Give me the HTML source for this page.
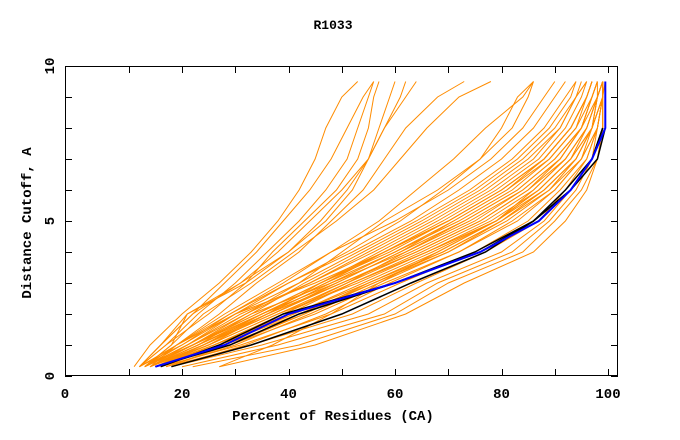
<!DOCTYPE html>
<html><head><meta charset="utf-8"><style>
html,body{margin:0;padding:0;background:#fff;}
svg{display:block;font-family:"Liberation Mono",monospace;font-weight:bold;}
</style></head><body>
<svg id="chart" width="680" height="440" xmlns="http://www.w3.org/2000/svg">
<text x="333" y="29" font-size="13" text-anchor="middle">R1033</text>
<g id="plot"></g>
<rect x="65.5" y="66.5" width="552" height="309" fill="none" stroke="#000" stroke-width="1"/>
<g id="axes"></g>
<text x="333" y="420" font-size="14" text-anchor="middle">Percent of Residues (CA)</text>
<text x="0" y="0" font-size="14" text-anchor="middle" transform="translate(31,223) rotate(-90)">Distance Cutoff, A</text>
</svg>
<script>
const yLevels=[0.3,1,2,3,4,5,6,7,8,9,9.5];
const xTicks=[0,20,40,60,80,100];
const yTicks=[0,5,10];
const orangeSeries=[
[13,20,30,45,58,70,80,88,93,96,97],[13,22,33,48,62,73,83,90,95,98,99],[14,24,36,50,64,76,85,92,96,98,99],
[14,25,38,53,66,78,87,93,97,99,99.5],[15,27,42,56,70,80,88,94,97,99,99],[15,29,45,58,72,82,90,95,98,99,99],
[16,31,48,61,75,85,91,96,98,99,99],[17,33,52,64,77,87,92,96,98,99,99],[18,35,55,66,80,88,93,97,98,99,99],
[20,38,58,68,82,89,94,97,99,99,99],[22,42,60,70,84,90,95,98,99,99,99],[27,45,62,73,86,92,96,98,99,99,99],
[13,21,31,44,55,66,76,84,90,94,95],[12,20,29,40,52,63,72,80,86,90,92],[14,23,35,47,60,72,82,89,94,97,98],
[16,26,40,52,66,79,88,94,97,98,99],[13,19,28,38,48,60,70,78,84,88,90],[15,24,37,50,63,75,84,91,95,97,98],
[14,22,34,46,58,69,79,87,92,95,96],[17,30,44,57,70,81,89,95,97,99,99],[13,21,32,42,50,58,68,76,82,85,86],
[15,26,41,55,68,79,87,93,96,98,98],[27,37,48,57,68,79,86,92,96,98,99],[14,23,33,43,54,65,75,83,89,93,94],
[16,28,39,51,62,74,84,91,95,97,98],[13,22,35,49,61,71,81,88,93,96,97],[15,25,36,46,57,68,78,86,91,94,96],
[14,24,37,49,61,73,83,90,95,97,98],[15,26,39,52,65,77,86,92,96,98,99],[14,23,36,48,60,71,81,89,94,96,97],
[16,27,41,54,67,79,87,93,97,98,99],[13,22,34,46,59,70,80,88,93,96,97],[15,25,38,51,64,76,85,91,95,97,98],
[17,29,43,56,69,80,88,94,97,99,99],[14,22,32,44,56,67,77,85,91,94,96],[16,28,43,55,69,80,89,94,97,98,99],
[12,19,30,42,53,64,74,82,88,92,94],[18,32,47,59,72,83,90,95,98,99,99],[15,24,35,47,58,70,80,88,93,96,97],
[11,14,20,27,33,38,42,45,47,50,53],[12,16,22,28,34,39,44,48,51,54,56],[12,17,23,30,36,42,47,51,53,55,56],
[13,18,21,32,37,43,49,53,55,56,57],[12,17,25,32,40,46,51,55,58,62,64],[14,19,27,34,42,48,54,58,62,68,73],
[12,16,21,31,38,44,50,55,58,61,62],[13,18,24,33,41,49,56,61,66,72,78],[13,19,29,39,48,57,64,71,77,84,86],
[12,16,22,31,40,47,52,55,57,59,60],[14,21,30,40,51,61,69,76,80,83,86]
];
const blackSeries=[[16,27,39,60,76,86,92,97,99,null,null],[18,33,50,63,77,86,93,98,99.5,null,null],[15,29,42,60,75,86,93,97,99,null,null]];
const blueSeries=[15,28,40,60,76,87,93,97,99.5,99.5,99.5];
const NS="http://www.w3.org/2000/svg";
const xs=v=>75.5+v*5.325;
const ys=v=>376-v*31;
const plot=document.getElementById('plot'),axes=document.getElementById('axes');
function line(vals,color,w,name){
  const pts=[];vals.forEach((v,i)=>{if(v!=null)pts.push(xs(v).toFixed(1)+','+ys(yLevels[i]).toFixed(1));});
  const p=document.createElementNS(NS,'polyline');
  p.setAttribute('points',pts.join(' '));p.setAttribute('fill','none');p.setAttribute('stroke',color);p.setAttribute('stroke-width',w);
  
  
  plot.appendChild(p);
}
orangeSeries.forEach((s,i)=>line(s,'#ff8c00',1,'model-line-'+i));
blackSeries.forEach((s,i)=>line(s,'#000',1.5,'reference-line-'+i));
line(blueSeries,'#0000ff',2,'highlight-line');
function mk(tag,attrs){const e=document.createElementNS(NS,tag);for(const k in attrs)e.setAttribute(k,attrs[k]);axes.appendChild(e);return e;}
for(let v=10;v<=100;v+=10){const x=Math.round(xs(v))+0.5;const L=7;
  const t1=mk('line',{x1:x,y1:376,x2:x,y2:376-L,stroke:'#000'});
  const t2=mk('line',{x1:x,y1:66,x2:x,y2:66+L,stroke:'#000'});}
for(let v=0;v<=10;v++){const y=Math.round(ys(v))+0.5;const L=7;
  const t1=mk('line',{x1:65,y1:y,x2:65+L,y2:y,stroke:'#000'});
  const t2=mk('line',{x1:618,y1:y,x2:618-L,y2:y,stroke:'#000'});}
xTicks.forEach(v=>{const t=mk('text',{x:v==0?65:xs(v),y:398,'font-size':14,'text-anchor':'middle'});t.textContent=v;
  });
yTicks.forEach(v=>{const t=mk('text',{x:0,y:0,'font-size':14,'text-anchor':'middle',transform:`translate(54,${ys(v)}) rotate(-90)`});t.textContent=v;
  });
</script>
</body></html>
